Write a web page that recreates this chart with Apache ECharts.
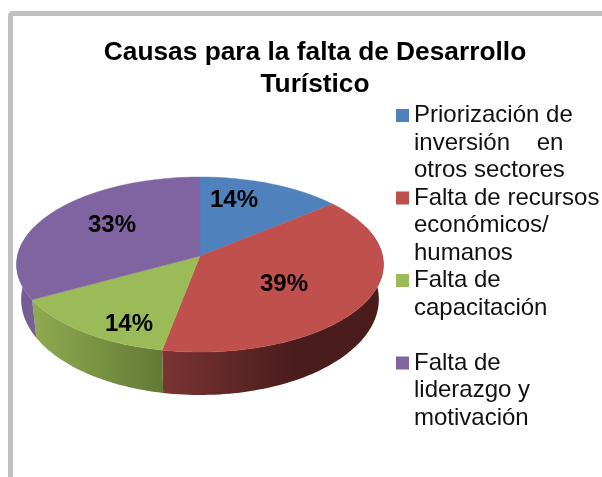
<!DOCTYPE html>
<html>
<head>
<meta charset="utf-8">
<style>html,body{margin:0;padding:0;background:#fff}#c{width:602px;height:477px}</style>
<script src="https://cdn.jsdelivr.net/npm/echarts@6/dist/echarts.min.js"></script>
</head>
<body>
<div id="c"></div>
<script>
const categories = [
  "Priorización de\ninversión    en\notros sectores",
  "Falta de recursos\neconómicos/\nhumanos",
  "Falta de\ncapacitación\n ",
  "Falta de\nliderazgo y\nmotivación"
];
const values = [14, 39, 14, 33];
const topColors = ["#4f81bd", "#c0504d", "#9bbb59", "#8064a2"];
const sideStops = [
  null,
  [[0, "#7a3432"], [0.6, "#4a1c1c"], [1, "#4a1c1c"]],
  [[0, "#8fab50"], [1, "#627935"]],
  [[0, "#6f5a8d"], [1, "#7a6199"]]
];
const labelAnchors = [[234, 200], [284, 284], [129, 324], [112, 225]];

const total = values.reduce((a, b) => a + b, 0);
const view = { cx: 200, cy: 256, a: 182.6, b: 86.7, k: 0.0971, a2: 178, b2: 94.8, cy2: 290 };
const rad = d => d * Math.PI / 180;
function topPoint(t, r) {
  const u = Math.sin(rad(t)) * r, v = Math.cos(rad(t)) * r, w = 1 + view.k * v;
  return [view.cx + view.a * u / w, view.cy - view.b * v / w];
}
function basePoint(t) {
  const u = Math.sin(rad(t)), v = Math.cos(rad(t)), w = 1 + view.k * v;
  return [view.cx + view.a2 * u / w, view.cy2 - view.b2 * v / w];
}
function sweep(fn, from, to) {
  const pts = [], n = Math.max(2, Math.ceil((to - from) / 1.5));
  for (let j = 0; j <= n; j++) pts.push(fn(from + (to - from) * j / n));
  return pts;
}
function renderSlice(params, api) {
  const i = params.seriesIndex;
  const before = values.slice(0, i).reduce((a, b) => a + b, 0);
  const start = before / total * 360, end = (before + api.value(0)) / total * 360;
  const children = [];
  const sideFrom = Math.max(start, 70), sideTo = Math.min(end, 290);
  if (sideTo > sideFrom && sideStops[i]) {
    const tops = sweep(t => topPoint(t, 1), sideFrom, sideTo);
    const bases = sweep(basePoint, sideFrom, sideTo).reverse();
    const xs = tops.concat(bases).map(p => p[0]);
    const x0 = i === 1 ? 162 : Math.min.apply(null, xs), x1 = Math.max.apply(null, xs);
    const fill = new echarts.graphic.LinearGradient(x0, 0, x1, 0,
      sideStops[i].map(s => ({ offset: s[0], color: s[1] })), true);
    children.push({ type: "polygon", shape: { points: tops.concat(bases) }, style: { fill: fill } });
  }
  const face = [[view.cx, view.cy]].concat(sweep(t => topPoint(t, 1), start, end));
  children.push({
    type: "polygon", shape: { points: face },
    style: { fill: topColors[i], stroke: topColors[i], lineWidth: 0.4 }
  });
  children.push({
    type: "text", z2: 10,
    style: {
      text: Math.round(api.value(0) / total * 100) + "%",
      x: labelAnchors[i][0], y: labelAnchors[i][1],
      align: "center", verticalAlign: "middle",
      font: "bold 24px 'Liberation Sans'", fill: "#000"
    }
  });
  return { type: "group", children: children };
}
const chart = echarts.init(document.getElementById("c"), null, { renderer: "canvas" });
chart.setOption({
  animation: false,
  backgroundColor: "#fff",
  title: {
    text: "Causas para la falta de Desarrollo\nTurístico",
    left: 310, top: 32, textAlign: "center",
    textStyle: { fontFamily: "Liberation Sans", fontWeight: "bold", fontSize: 26.3, lineHeight: 32, color: "#000" }
  },
  legend: {
    orient: "vertical", left: 396, top: 102, padding: 0, itemGap: 0,
    itemWidth: 13, itemHeight: 82.5,
    icon: "path://M0 7H13V20H0Z M0 0L0 0 M13 82.5L13 82.5",
    selectedMode: false,
    textStyle: { fontFamily: "Liberation Sans", fontSize: 24, lineHeight: 27.5, color: "#111" },
    data: categories
  },
  graphic: [{
    type: "rect", silent: true, z: -1,
    shape: { x: 10.5, y: 13.5, width: 800, height: 700, r: 2 },
    style: { fill: "none", stroke: "#c0c0c0", lineWidth: 5 }
  }],
  series: categories.map((name, i) => ({
    type: "custom", name: name, coordinateSystem: "none",
    color: topColors[i], itemStyle: { color: topColors[i] },
    silent: true, renderItem: renderSlice, data: [[values[i]]]
  }))
});
</script>
</body>
</html>
